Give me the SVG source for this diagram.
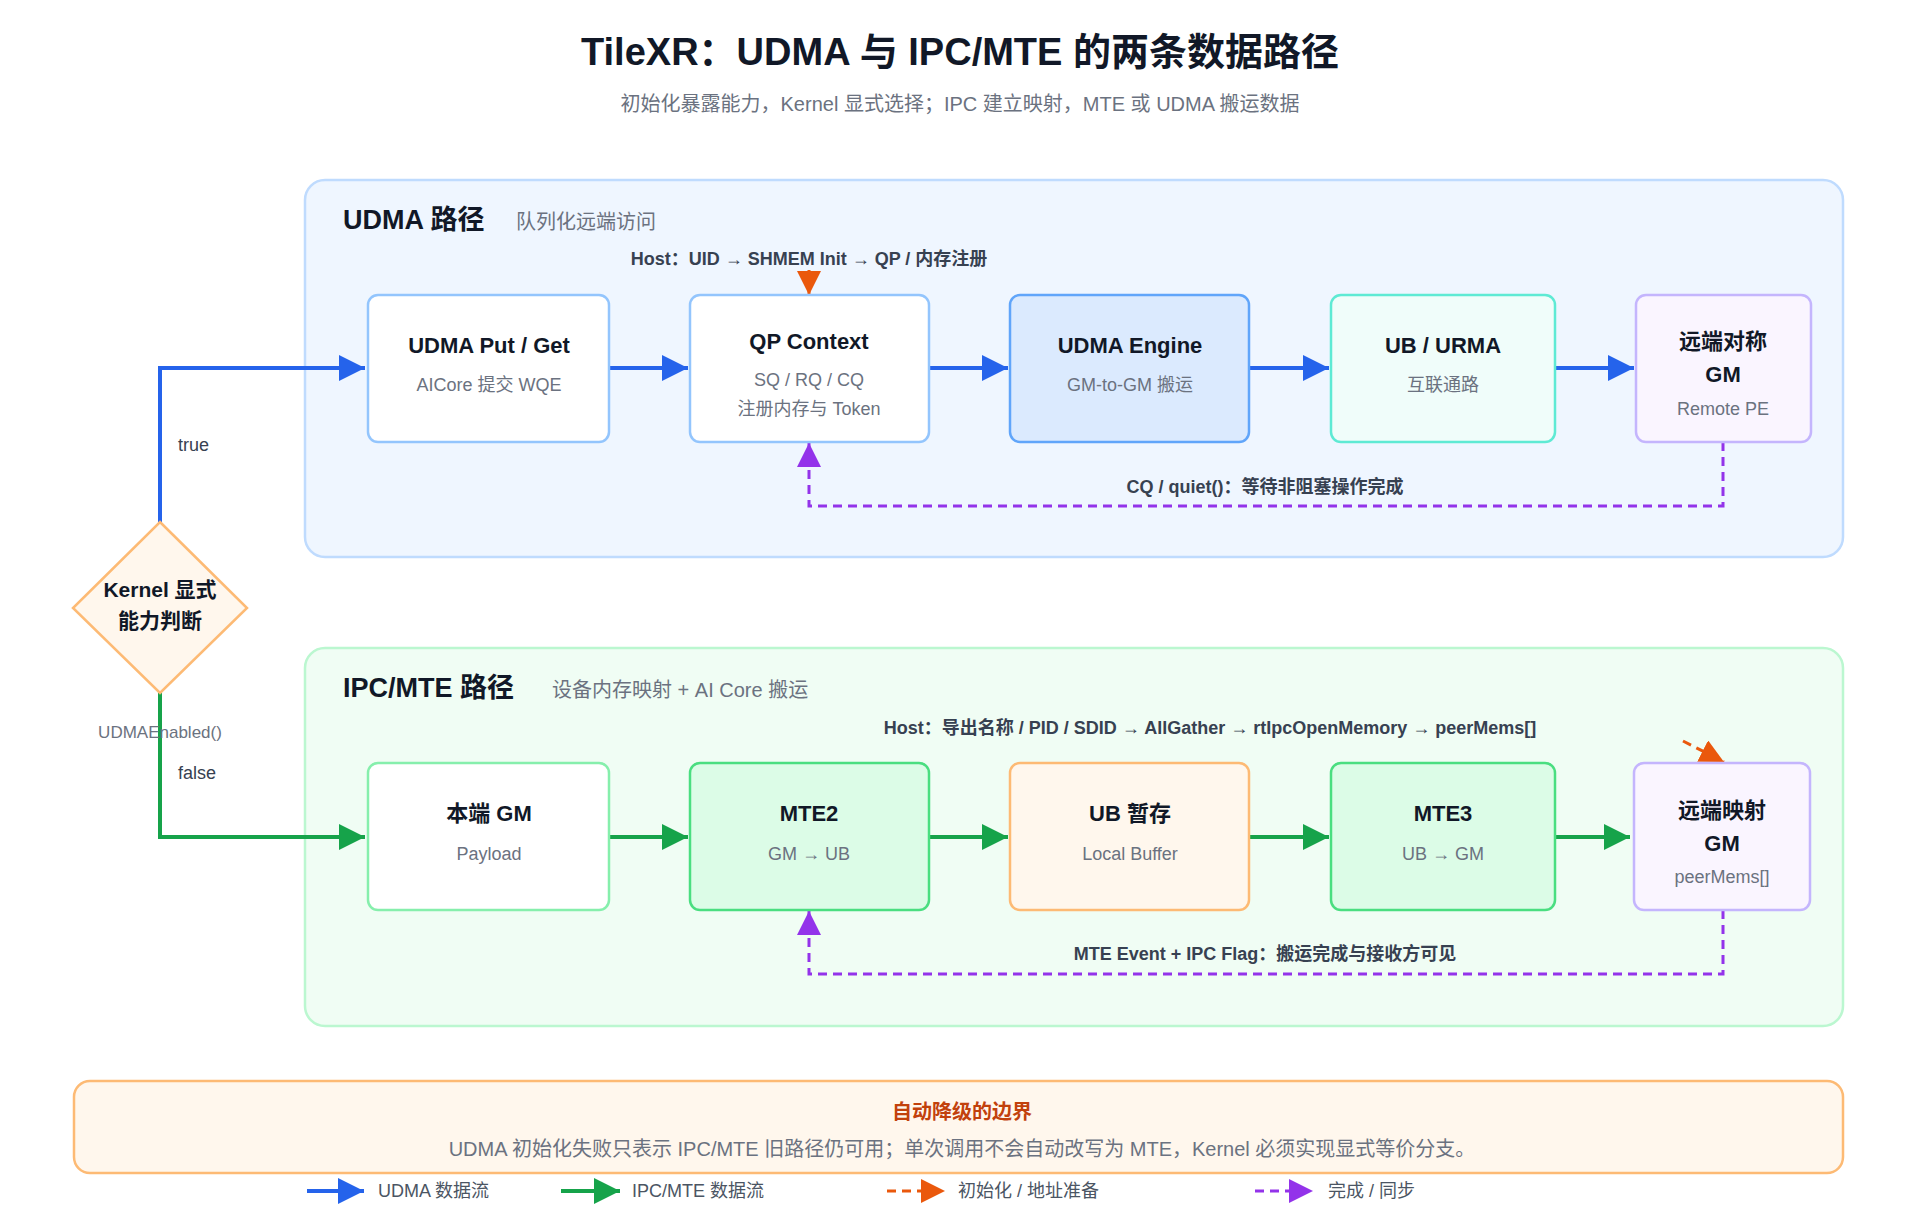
<svg xmlns="http://www.w3.org/2000/svg" width="1920" height="1216" viewBox="0 0 1920 1216">
<style>
text{font-family:"Liberation Sans","Noto Sans CJK SC",sans-serif}
.t{font-size:22px;font-weight:bold;fill:#111827;text-anchor:middle}
.s{font-size:18px;fill:#6b7280;text-anchor:middle}
.lb{font-size:18px;font-weight:bold;fill:#374151;text-anchor:middle}
.lg{font-size:18px;fill:#4b5563}
.n{stroke-width:2.5}
.b{stroke:#2563eb;stroke-width:4;fill:none}
.g{stroke:#16a34a;stroke-width:4;fill:none}
.o{stroke:#ea580c;stroke-width:3;fill:none;stroke-dasharray:9 6}
.p{stroke:#9333ea;stroke-width:3;fill:none;stroke-dasharray:9 6}
</style>
<defs>
<marker id="mb" viewBox="0 0 10 10" refX="10" refY="5" markerWidth="9" markerHeight="6.5" markerUnits="userSpaceOnUse" orient="auto"><path d="M0,0L10,5L0,10z" fill="#2563eb"/></marker>
<marker id="mg" viewBox="0 0 10 10" refX="10" refY="5" markerWidth="9" markerHeight="6.5" markerUnits="strokeWidth" orient="auto"><path d="M0,0L10,5L0,10z" fill="#16a34a"/></marker>
<marker id="mbb" viewBox="0 0 10 10" refX="10" refY="5" markerWidth="9" markerHeight="6.5" markerUnits="strokeWidth" orient="auto"><path d="M0,0L10,5L0,10z" fill="#2563eb"/></marker>
<marker id="mo" viewBox="0 0 10 10" refX="10" refY="5" markerWidth="8" markerHeight="8" markerUnits="strokeWidth" orient="auto"><path d="M0,0L10,5L0,10z" fill="#ea580c"/></marker>
<marker id="mp" viewBox="0 0 10 10" refX="10" refY="5" markerWidth="8" markerHeight="8" markerUnits="strokeWidth" orient="auto"><path d="M0,0L10,5L0,10z" fill="#9333ea"/></marker>
</defs>
<rect width="1920" height="1216" fill="#fff"/>
<text x="960" y="65" text-anchor="middle" style="font-size:38px;font-weight:bold;fill:#111827">TileXR：UDMA 与 IPC/MTE 的两条数据路径</text>
<text x="960" y="111" text-anchor="middle" style="font-size:20px;fill:#6b7280">初始化暴露能力，Kernel 显式选择；IPC 建立映射，MTE 或 UDMA 搬运数据</text>

<g id="panel-udma">
<rect x="305" y="180" width="1538" height="377" rx="20" fill="#eff6ff" stroke="#bfdbfe" stroke-width="2.5"/>
<text x="343" y="229" style="font-size:27px;font-weight:bold;fill:#111827">UDMA 路径</text>
<text x="516" y="229" style="font-size:20px;fill:#6b7280">队列化远端访问</text>
</g>
<g id="panel-ipc">
<rect x="305" y="648" width="1538" height="378" rx="20" fill="#f0fdf4" stroke="#bbf7d0" stroke-width="2.5"/>
<text x="343" y="697" style="font-size:27px;font-weight:bold;fill:#111827">IPC/MTE 路径</text>
<text x="552" y="697" style="font-size:20px;fill:#6b7280">设备内存映射 + AI Core 搬运</text>
</g>

<g id="connectors">
<path class="b" d="M160,522V368H365" marker-end="url(#mbb)"/>
<path class="g" d="M160,693V837H365" marker-end="url(#mg)"/>
<path class="b" d="M609,368H688" marker-end="url(#mbb)"/>
<path class="b" d="M929,368H1008" marker-end="url(#mbb)"/>
<path class="b" d="M1249,368H1329" marker-end="url(#mbb)"/>
<path class="b" d="M1555,368H1634" marker-end="url(#mbb)"/>
<path class="g" d="M609,837H688" marker-end="url(#mg)"/>
<path class="g" d="M929,837H1008" marker-end="url(#mg)"/>
<path class="g" d="M1249,837H1329" marker-end="url(#mg)"/>
<path class="g" d="M1555,837H1630" marker-end="url(#mg)"/>
<path class="o" d="M809,270V295" marker-end="url(#mo)"/>
<path class="o" d="M1683,741L1724,762" marker-end="url(#mo)"/>
<path class="p" d="M1723,442V506H809V443" marker-end="url(#mp)"/>
<path class="p" d="M1723,910V974H809V911" marker-end="url(#mp)"/>
<text x="809" y="265" class="lb">Host：UID → SHMEM Init → QP / 内存注册</text>
<text x="1265" y="493" class="lb">CQ / quiet()：等待非阻塞操作完成</text>
<text x="1210" y="734" class="lb">Host：导出名称 / PID / SDID → AllGather → rtIpcOpenMemory → peerMems[]</text>
<text x="1265" y="960" class="lb">MTE Event + IPC Flag：搬运完成与接收方可见</text>
<text x="178" y="451" style="font-size:18px;fill:#374151">true</text>
<text x="178" y="779" style="font-size:18px;fill:#374151">false</text>
<text x="160" y="738" text-anchor="middle" style="font-size:17px;fill:#6b7280">UDMAEnabled()</text>
</g>

<g id="decision">
<path d="M160,522L247,608L160,693L73,608Z" fill="#fff7ed" stroke="#fdba74" stroke-width="2.5"/>
<text x="160" y="597" class="t" style="font-size:21px">Kernel 显式</text>
<text x="160" y="628" class="t" style="font-size:21px">能力判断</text>
</g>

<g id="udma-put"><rect class="n" x="368" y="295" width="241" height="147" rx="10" fill="#fff" stroke="#93c5fd"/>
<text x="489" y="353" class="t">UDMA Put / Get</text><text x="489" y="391" class="s">AICore 提交 WQE</text></g>
<g id="qp"><rect class="n" x="690" y="295" width="239" height="147" rx="10" fill="#fff" stroke="#93c5fd"/>
<text x="809" y="349" class="t">QP Context</text><text x="809" y="386" class="s">SQ / RQ / CQ</text><text x="809" y="415" class="s">注册内存与 Token</text></g>
<g id="udma-engine"><rect class="n" x="1010" y="295" width="239" height="147" rx="10" fill="#dbeafe" stroke="#60a5fa"/>
<text x="1130" y="353" class="t">UDMA Engine</text><text x="1130" y="391" class="s">GM-to-GM 搬运</text></g>
<g id="ub-urma"><rect class="n" x="1331" y="295" width="224" height="147" rx="10" fill="#f0fdfa" stroke="#5eead4"/>
<text x="1443" y="353" class="t">UB / URMA</text><text x="1443" y="391" class="s">互联通路</text></g>
<g id="remote-gm"><rect class="n" x="1636" y="295" width="175" height="147" rx="10" fill="#faf5ff" stroke="#c4b5fd"/>
<text x="1723" y="349" class="t">远端对称</text><text x="1723" y="382" class="t">GM</text><text x="1723" y="415" class="s">Remote PE</text></g>

<g id="local-gm"><rect class="n" x="368" y="763" width="241" height="147" rx="10" fill="#fff" stroke="#86efac"/>
<text x="489" y="821" class="t">本端 GM</text><text x="489" y="860" class="s">Payload</text></g>
<g id="mte2"><rect class="n" x="690" y="763" width="239" height="147" rx="10" fill="#dcfce7" stroke="#4ade80"/>
<text x="809" y="821" class="t">MTE2</text><text x="809" y="860" class="s">GM → UB</text></g>
<g id="ub-buf"><rect class="n" x="1010" y="763" width="239" height="147" rx="10" fill="#fff7ed" stroke="#fdba74"/>
<text x="1130" y="821" class="t">UB 暂存</text><text x="1130" y="860" class="s">Local Buffer</text></g>
<g id="mte3"><rect class="n" x="1331" y="763" width="224" height="147" rx="10" fill="#dcfce7" stroke="#4ade80"/>
<text x="1443" y="821" class="t">MTE3</text><text x="1443" y="860" class="s">UB → GM</text></g>
<g id="remote-map"><rect class="n" x="1634" y="763" width="176" height="147" rx="10" fill="#faf5ff" stroke="#c4b5fd"/>
<text x="1722" y="818" class="t">远端映射</text><text x="1722" y="851" class="t">GM</text><text x="1722" y="883" class="s">peerMems[]</text></g>

<g id="note">
<rect x="74" y="1081" width="1769" height="92" rx="16" fill="#fff7ed" stroke="#fdba74" stroke-width="2.5"/>
<text x="962" y="1119" text-anchor="middle" style="font-size:20px;font-weight:bold;fill:#c2410c">自动降级的边界</text>
<text x="962" y="1156" text-anchor="middle" style="font-size:20px;fill:#6b7280">UDMA 初始化失败只表示 IPC/MTE 旧路径仍可用；单次调用不会自动改写为 MTE，Kernel 必须实现显式等价分支。</text>
</g>

<g id="legend">
<path class="b" d="M307,1191H364" marker-end="url(#mbb)"/><text x="378" y="1197" class="lg">UDMA 数据流</text>
<path class="g" d="M561,1191H620" marker-end="url(#mg)"/><text x="632" y="1197" class="lg">IPC/MTE 数据流</text>
<path class="o" d="M887,1191H945" marker-end="url(#mo)"/><text x="958" y="1197" class="lg">初始化 / 地址准备</text>
<path class="p" d="M1255,1191H1313" marker-end="url(#mp)"/><text x="1328" y="1197" class="lg">完成 / 同步</text>
</g>
</svg>
